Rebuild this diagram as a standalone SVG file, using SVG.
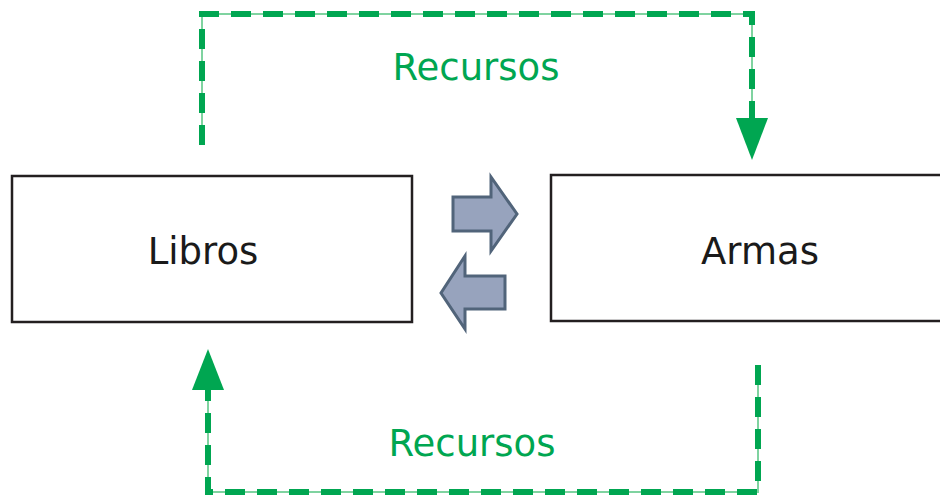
<svg xmlns="http://www.w3.org/2000/svg" width="940" height="497" viewBox="0 0 940 497">
<style>
.box{fill:#fff;stroke:#231f20;stroke-width:2.5}
.lbl{font-family:"DejaVu Sans","Verdana",sans-serif;font-size:37px;fill:#1a1a1a;text-anchor:middle}
.res{font-family:"DejaVu Sans","Verdana",sans-serif;font-size:37px;fill:#00a651;text-anchor:middle}
.thin{fill:none;stroke:#7fd3a0;stroke-width:2}
.dash{fill:none;stroke:#00a651;stroke-width:6;stroke-dasharray:20 12}
.blk{fill:#97a3bd;stroke:#51647a;stroke-width:3;stroke-linejoin:miter}
.head{fill:#00a651}
</style>
<rect width="940" height="497" fill="#fff"/>
<g id="libros">
<rect class="box" x="12" y="176" width="400" height="146"/>
<text class="lbl" x="203" y="264">Libros</text>
</g>
<g id="armas">
<rect class="box" x="551" y="175" width="400" height="146"/>
<text class="lbl" x="760" y="264">Armas</text>
</g>
<g id="connectors">
<path class="thin" d="M202,145 V14 H752 V120"/>
<path class="dash" d="M202,145 V14 H752 V120"/>
<polygon class="head" points="736,118 768,118 752,160"/>
<text class="res" x="476" y="80">Recursos</text>
<path class="thin" d="M758,365 V492 H208 V390"/>
<path class="dash" d="M758,365 V492 H208 V390"/>
<polygon class="head" points="192,390 224,390 208,349"/>
<text class="res" x="472" y="456">Recursos</text>
<polygon class="blk" points="453,197 491,197 491,177 517,214 491,251 491,231 453,231"/>
<polygon class="blk" points="505,276 465,276 465,256 441,293 465,329 465,309 505,309"/>
</g>
</svg>
